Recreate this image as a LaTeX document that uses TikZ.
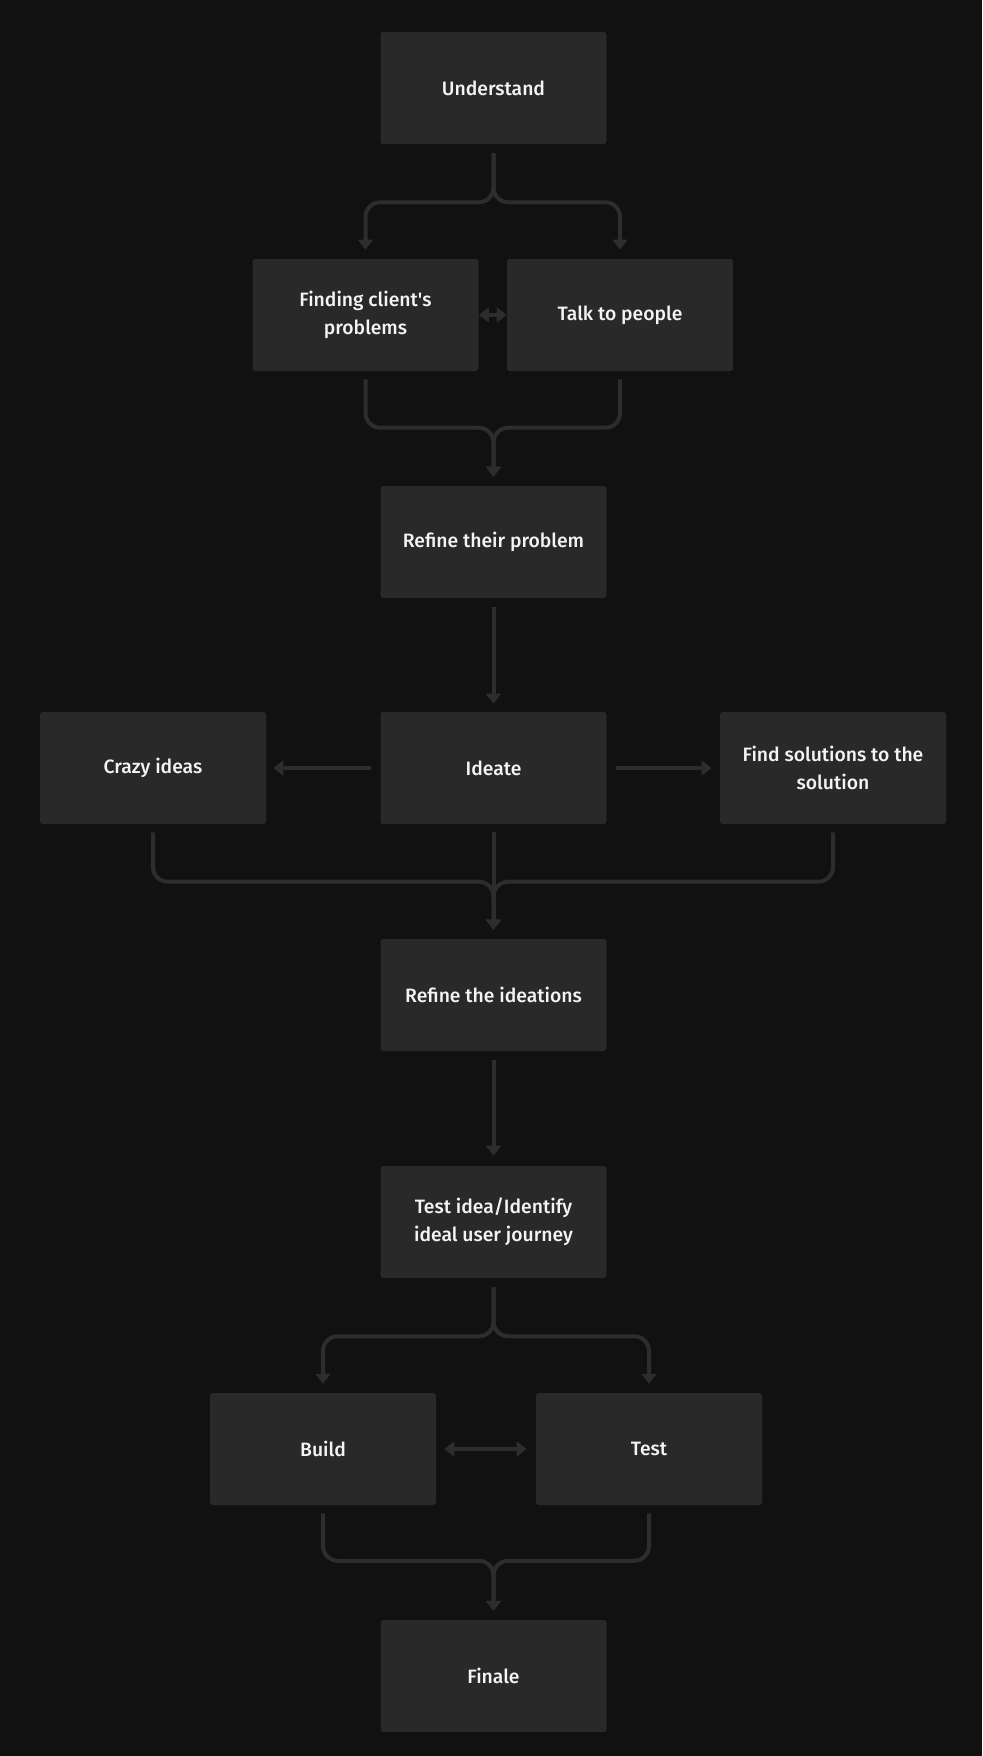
\documentclass[tikz,border=0pt]{standalone}
\usepackage{fontspec}
\setmainfont{Fira Sans}[UprightFont=* Medium]
\usetikzlibrary{arrows.meta,calc}
\definecolor{bg}{HTML}{111111}
\definecolor{boxfill}{HTML}{292929}
\definecolor{wire}{HTML}{2D2D2D}
\definecolor{label}{HTML}{F4F4F4}
\begin{document}
\begin{tikzpicture}[x=0.75pt,y=-0.75pt,
  stage/.style={draw=none,fill=boxfill,rounded corners=2pt,minimum width=169.5pt,
    minimum height=84pt,inner sep=0pt,text=label,align=center,
    font=\fontsize{14.5pt}{21pt}\selectfont},
  conn/.style={draw=wire,line width=3pt,rounded corners=11pt,
    -{Triangle[width=11pt,length=7.5pt]}},
  twoway/.style={draw=wire,line width=3pt,
    {Triangle[width=11pt,length=7.5pt]}-{Triangle[width=11pt,length=7.5pt]}}]
  % canvas
  \fill[bg] (0,0) rectangle (982,1756);
  \useasboundingbox (0,0) rectangle (982,1756);

  % stages
  \node[stage] (und) at (493.5,88) {Understand};
  \node[stage] (fcp) at (365.5,315) {Finding client\textquotesingle s\\problems};
  \node[stage] (tlk) at (620,315) {Talk to people};
  \node[stage] (rtp) at (493.5,542) {Refine their problem};
  \node[stage] (crz) at (153,768) {Crazy ideas};
  \node[stage] (ide) at (493.5,768) {Ideate};
  \node[stage] (fsl) at (833,768) {Find solutions to the\\solution};
  \node[stage] (rti) at (493.5,995) {Refine the ideations};
  \node[stage] (tid) at (493.5,1222) {Test idea/Identify\\ideal user journey};
  \node[stage] (bld) at (323,1449) {Build};
  \node[stage] (tst) at (649,1449) {Test};
  \node[stage] (fin) at (493.5,1676) {Finale};

  % Understand splits into two
  \draw[conn] ($(und.south)+(0,9)$) -- ($(und.south)+(0,58)$) -| ($(fcp.north)+(0,-9)$);
  \draw[conn] ($(und.south)+(0,9)$) -- ($(und.south)+(0,58)$) -| ($(tlk.north)+(0,-9)$);
  \draw[twoway] (fcp.east) -- (tlk.west);

  % merge into refine
  \draw[conn] ($(fcp.south)+(0,8)$) |- ($(rtp.north)+(0,-58)$) -- ($(rtp.north)+(0,-9)$);
  \draw[conn] ($(tlk.south)+(0,8)$) |- ($(rtp.north)+(0,-58)$) -- ($(rtp.north)+(0,-9)$);

  % refine to ideate
  \draw[conn] ($(rtp.south)+(0,9)$) -- ($(ide.north)+(0,-8)$);
  \draw[conn] ($(ide.west)+(-9,0)$) -- ($(crz.east)+(7,0)$);
  \draw[conn] ($(ide.east)+(9,0)$) -- ($(fsl.west)+(-8,0)$);

  % merge into refine the ideations
  \draw[conn] ($(crz.south)+(0,8)$) |- ($(rti.north)+(0,-57)$) -- ($(rti.north)+(0,-9)$);
  \draw[conn] ($(fsl.south)+(0,8)$) |- ($(rti.north)+(0,-57)$) -- ($(rti.north)+(0,-9)$);
  \draw[conn] ($(ide.south)+(0,8)$) -- ($(rti.north)+(0,-9)$);

  % to test idea
  \draw[conn] ($(rti.south)+(0,9)$) -- ($(tid.north)+(0,-10)$);

  % split into build and test
  \draw[conn] ($(tid.south)+(0,9)$) -- ($(tid.south)+(0,58)$) -| ($(bld.north)+(0,-9)$);
  \draw[conn] ($(tid.south)+(0,9)$) -- ($(tid.south)+(0,58)$) -| ($(tst.north)+(0,-9)$);
  \draw[twoway] ($(bld.east)+(8,0)$) -- ($(tst.west)+(-9,0)$);

  % merge into finale
  \draw[conn] ($(bld.south)+(0,8)$) |- ($(fin.north)+(0,-59)$) -- ($(fin.north)+(0,-9)$);
  \draw[conn] ($(tst.south)+(0,8)$) |- ($(fin.north)+(0,-59)$) -- ($(fin.north)+(0,-9)$);
\end{tikzpicture}
\end{document}
